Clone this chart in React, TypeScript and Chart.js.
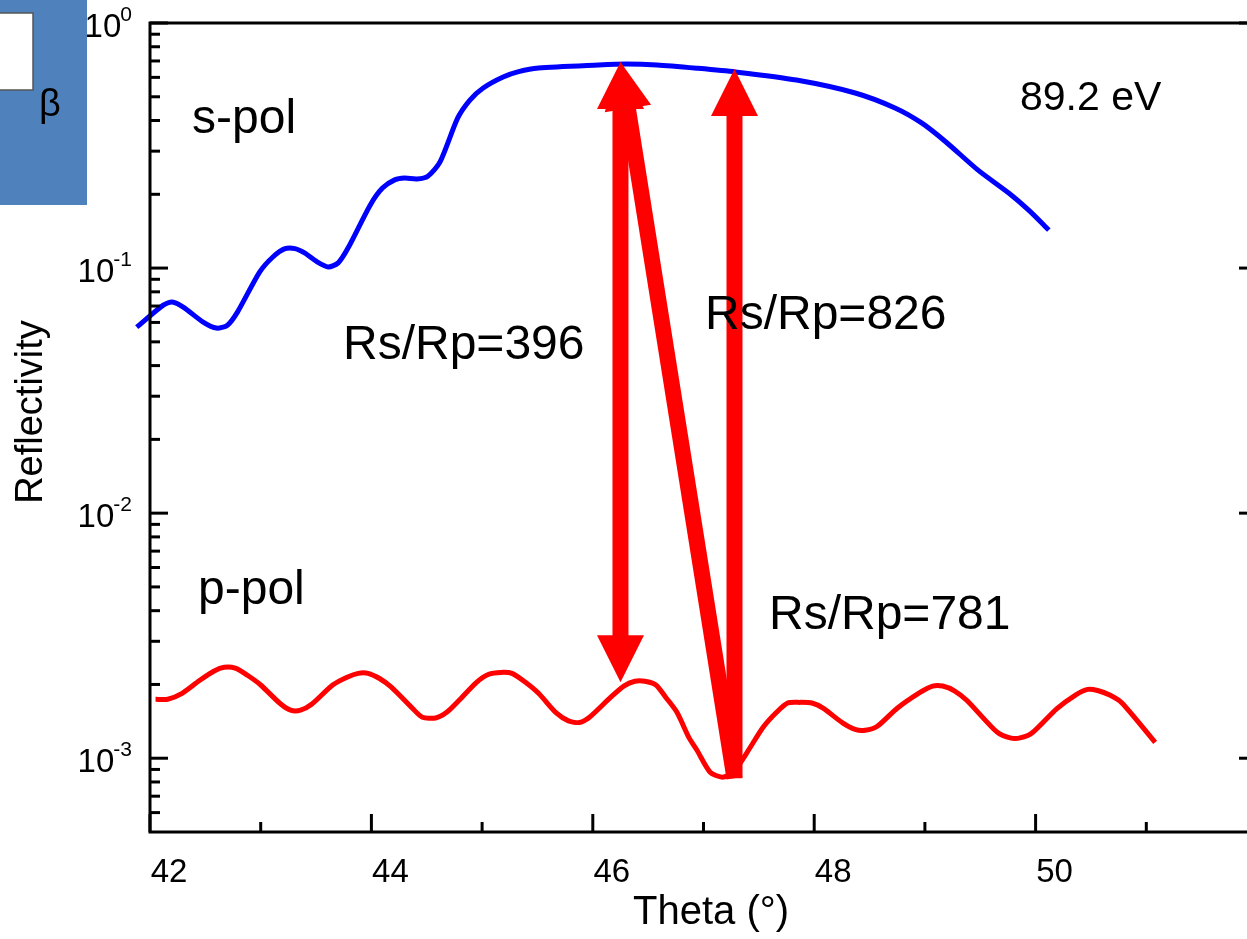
import { useEffect, useRef } from "react";
import { Chart, registerables } from "chart.js";

Chart.register(...registerables);

const FONT = "'Liberation Sans', Arial, Helvetica, sans-serif";

// s-polarised reflectivity (blue)
const sPolTheta = [41.88, 42.12, 42.2, 42.3, 42.48, 42.6, 42.7, 42.79, 42.99, 43.11, 43.22, 43.31, 43.4, 43.51, 43.61, 43.7, 43.79, 43.99, 44.1, 44.21, 44.3, 44.41, 44.51, 44.62, 44.78, 44.89, 45.01, 45.19, 45.33, 45.51, 46.05, 46.3, 46.58, 46.95, 47.29, 47.84, 48.37, 48.73, 48.97, 49.19, 49.48, 49.76, 49.94, 50.12];
const sPolR = [0.0574, 0.0706, 0.0727, 0.0693, 0.0602, 0.0569, 0.0585, 0.0661, 0.0963, 0.111, 0.12, 0.12, 0.115, 0.106, 0.101, 0.105, 0.121, 0.181, 0.212, 0.229, 0.233, 0.231, 0.237, 0.271, 0.41, 0.485, 0.543, 0.602, 0.633, 0.655, 0.674, 0.68, 0.674, 0.653, 0.631, 0.585, 0.518, 0.45, 0.391, 0.327, 0.251, 0.202, 0.172, 0.143];

// p-polarised reflectivity (red)
const pPolTheta = [42.05, 42.16, 42.29, 42.45, 42.58, 42.67, 42.77, 42.88, 43.0, 43.17, 43.27, 43.36, 43.46, 43.65, 43.78, 43.88, 43.97, 44.07, 44.18, 44.37, 44.46, 44.58, 44.68, 44.79, 44.95, 45.06, 45.17, 45.27, 45.38, 45.51, 45.67, 45.78, 45.88, 45.97, 46.16, 46.28, 46.38, 46.47, 46.57, 46.66, 46.76, 46.87, 46.94, 47.06, 47.17, 47.27, 47.39, 47.54, 47.66, 47.76, 47.87, 47.98, 48.08, 48.26, 48.37, 48.46, 48.57, 48.75, 48.96, 49.07, 49.16, 49.27, 49.38, 49.65, 49.77, 49.86, 49.97, 50.19, 50.36, 50.47, 50.56, 50.67, 50.78, 51.08];
const pPolR = [0.00174, 0.00174, 0.00184, 0.00208, 0.00227, 0.00235, 0.00233, 0.00218, 0.00199, 0.00168, 0.00157, 0.00157, 0.00166, 0.00199, 0.00214, 0.00222, 0.00222, 0.00212, 0.00195, 0.0016, 0.00147, 0.00146, 0.00154, 0.00172, 0.00204, 0.0022, 0.00224, 0.00222, 0.00206, 0.00184, 0.00153, 0.00142, 0.0014, 0.00147, 0.00177, 0.00197, 0.00206, 0.00206, 0.00199, 0.00177, 0.00154, 0.00121, 0.00108, 0.000877, 0.000837, 0.000877, 0.00105, 0.00134, 0.00154, 0.00168, 0.00169, 0.00168, 0.0016, 0.00139, 0.00131, 0.0013, 0.00135, 0.0016, 0.00186, 0.00197, 0.00197, 0.00188, 0.00172, 0.00128, 0.00121, 0.00121, 0.00127, 0.00159, 0.00181, 0.00191, 0.00189, 0.00181, 0.00168, 0.00116];

// arrows (tail -> tip)
const arrowTailTheta = [46.25, 47.28, 47.28];
const arrowTailR = [0.00204, 0.000828, 0.000828];
const arrowTipTheta = [46.25, 47.28, 46.25];
const arrowTipR = [0.693, 0.649, 0.693];
const arrowDoubleHead = [true, false, false];

// axes
const xMin = 42;
const xMax = 52;
const yMin = 5e-4;
const yMax = 1;
const xMajorTicks = [42, 44, 46, 48, 50];
const xMinorTicks = [43, 45, 47, 49, 51];
const yDecadeTicks = [1, 0.1, 0.01, 0.001];
const yDecadeExponents = ["0", "-1", "-2", "-3"];
const yMinorMantissas = [2, 3, 4, 5, 6, 7, 8, 9];

const xTitle = "Theta (°)";
const yTitle = "Reflectivity";
const sPolLabel = "s-pol";
const pPolLabel = "p-pol";
const ratioLabels = ["Rs/Rp=396", "Rs/Rp=826", "Rs/Rp=781"];
const energyLabel = "89.2 eV";
const betaLabel = "β";

function drawArrow(ctx: CanvasRenderingContext2D, x1: number, y1: number, x2: number, y2: number, doubleHead: boolean) {
  const HL = 47, HW = 23.5, SW = 8;
  const dx = x2 - x1, dy = y2 - y1;
  const len = Math.hypot(dx, dy);
  const ux = dx / len, uy = dy / len;
  const px = -uy, py = ux;
  const pt = (s: number, o: number): [number, number] => [x1 + ux * s + px * o, y1 + uy * s + py * o];
  const s0 = doubleHead ? HL - 1 : 0;
  const s1 = len - HL + 1;
  ctx.beginPath();
  ctx.moveTo(...pt(s0, SW));
  ctx.lineTo(...pt(s1, SW));
  ctx.lineTo(...pt(s1, -SW));
  ctx.lineTo(...pt(s0, -SW));
  ctx.closePath();
  ctx.fill();
  ctx.beginPath();
  ctx.moveTo(...pt(len, 0));
  ctx.lineTo(...pt(len - HL, HW));
  ctx.lineTo(...pt(len - HL, -HW));
  ctx.closePath();
  ctx.fill();
  if (doubleHead) {
    ctx.beginPath();
    ctx.moveTo(...pt(0, 0));
    ctx.lineTo(...pt(HL, HW));
    ctx.lineTo(...pt(HL, -HW));
    ctx.closePath();
    ctx.fill();
  }
}

const decorations = {
  id: "decorations",
  afterDatasetsDraw(chart: any) {
    const ctx: CanvasRenderingContext2D = chart.ctx;
    const a = chart.chartArea;
    const xs = chart.scales.x;
    const ys = chart.scales.y;
    ctx.save();

    // arrows
    ctx.fillStyle = "#ff0000";
    arrowTailTheta.forEach((_, i) => {
      drawArrow(
        ctx,
        xs.getPixelForValue(arrowTailTheta[i]),
        ys.getPixelForValue(arrowTailR[i]),
        xs.getPixelForValue(arrowTipTheta[i]),
        ys.getPixelForValue(arrowTipR[i]),
        arrowDoubleHead[i]
      );
    });

    // frame
    ctx.strokeStyle = "#000";
    ctx.lineWidth = 3;
    ctx.strokeRect(a.left, a.top, a.right - a.left, a.bottom - a.top);
    const tick = (x1: number, y1: number, x2: number, y2: number) => {
      ctx.beginPath();
      ctx.moveTo(x1, y1);
      ctx.lineTo(x2, y2);
      ctx.stroke();
    };
    xMajorTicks.forEach((v) => {
      const x = xs.getPixelForValue(v);
      tick(x, a.bottom, x, a.bottom - 18);
    });
    xMinorTicks.forEach((v) => {
      const x = xs.getPixelForValue(v);
      tick(x, a.bottom, x, a.bottom - 10);
    });
    yDecadeTicks.forEach((d) => {
      const y = ys.getPixelForValue(d);
      tick(a.left, y, a.left + 18, y);
      tick(a.right, y, a.right - 18, y);
      yMinorMantissas.forEach((m) => {
        const v = (m * d) / 10;
        if (v <= yMin || v >= yMax) return;
        const yy = ys.getPixelForValue(v);
        tick(a.left, yy, a.left + 10, yy);
        tick(a.right, yy, a.right - 10, yy);
      });
    });

    // y tick labels 10^n
    ctx.fillStyle = "#000";
    ctx.textBaseline = "alphabetic";
    yDecadeTicks.forEach((d, i) => {
      const y = ys.getPixelForValue(d);
      const right = a.left - 18;
      ctx.font = `21px ${FONT}`;
      const w2 = ctx.measureText(yDecadeExponents[i]).width;
      ctx.textAlign = "left";
      ctx.fillText(yDecadeExponents[i], right - w2, y - 2);
      ctx.font = `33px ${FONT}`;
      ctx.textAlign = "right";
      ctx.fillText("10", right - w2 + 1, y + 14);
    });

    // axis titles
    ctx.font = `40px ${FONT}`;
    ctx.textAlign = "center";
    ctx.fillText(xTitle, 711, 924);
    ctx.save();
    ctx.translate(42, 412);
    ctx.rotate(-Math.PI / 2);
    ctx.font = `38px ${FONT}`;
    ctx.fillText(yTitle, 0, 0);
    ctx.restore();

    // annotations
    ctx.textAlign = "left";
    ctx.font = `48px ${FONT}`;
    ctx.fillText(sPolLabel, 192, 133);
    ctx.fillText(pPolLabel, 198, 604);
    ctx.fillText(ratioLabels[0], 343, 359);
    ctx.fillText(ratioLabels[1], 705, 329);
    ctx.fillText(ratioLabels[2], 769, 629);
    ctx.font = `41px ${FONT}`;
    ctx.fillText(energyLabel, 1020, 110);

    // inset box
    ctx.fillStyle = "#4f81bd";
    ctx.fillRect(0, 0, 87, 205);
    ctx.fillStyle = "#ffffff";
    ctx.fillRect(0, 13, 33, 77);
    ctx.strokeStyle = "#555";
    ctx.lineWidth = 1.5;
    ctx.strokeRect(-1, 13, 34, 77);
    ctx.fillStyle = "#000";
    ctx.font = `38px ${FONT}`;
    ctx.fillText(betaLabel, 39, 116);

    ctx.restore();
  },
};

export default function App() {
  const ref = useRef<HTMLCanvasElement>(null);
  useEffect(() => {
    const chart = new Chart(ref.current!, {
      type: "line",
      data: {
        datasets: [
          {
            label: "s-pol",
            data: sPolTheta.map((x, i) => ({ x, y: sPolR[i] })),
            borderColor: "#0000ff",
            borderWidth: 5,
            pointRadius: 0,
            fill: false,
            tension: 0.25,
            clip: false as any,
          },
          {
            label: "p-pol",
            data: pPolTheta.map((x, i) => ({ x, y: pPolR[i] })),
            borderColor: "#ff0000",
            borderWidth: 5,
            pointRadius: 0,
            fill: false,
            tension: 0.25,
            clip: false as any,
          },
        ],
      },
      options: {
        animation: false,
        responsive: false,
        events: [],
        layout: { padding: { top: 23, right: 3, left: 0, bottom: 0 } },
        plugins: { legend: { display: false }, tooltip: { enabled: false }, title: { display: false } },
        scales: {
          x: {
            type: "linear",
            min: xMin,
            max: xMax,
            position: "bottom",
            grid: { display: false, drawTicks: false },
            border: { display: false },
            afterBuildTicks: (s: any) => {
              s.ticks = xMajorTicks.map((v) => ({ value: v }));
            },
            afterFit: (s: any) => {
              s.height = 107;
            },
            ticks: {
              labelOffset: 19,
              padding: 21,
              autoSkip: false,
              maxRotation: 0,
              color: "#000",
              font: { family: FONT, size: 33 },
              callback: (v: any) => String(v),
            },
          },
          y: {
            type: "logarithmic",
            min: yMin,
            max: yMax,
            grid: { display: false, drawTicks: false },
            border: { display: false },
            ticks: { display: false },
            afterFit: (s: any) => {
              s.width = 150;
            },
          },
        },
      },
      plugins: [decorations],
    });
    return () => chart.destroy();
  }, []);
  return (
    <div style={{ position: "fixed", left: 0, top: 0, width: 1247, height: 939, overflow: "hidden", background: "#fff" }}>
      <canvas ref={ref} width={1260} height={939} style={{ display: "block" }} />
    </div>
  );
}
